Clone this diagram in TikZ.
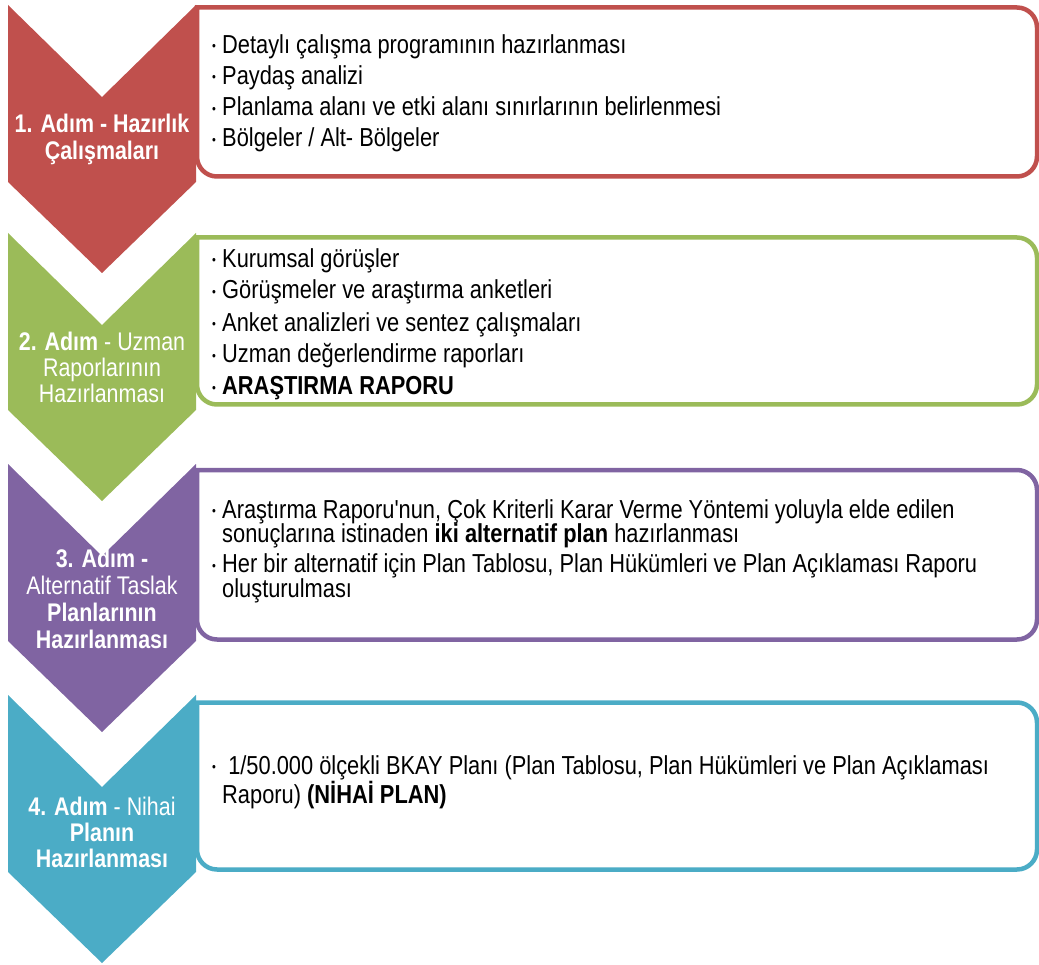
\documentclass[tikz,border=0pt]{standalone}
\usepackage{fontspec}
\setmainfont{Liberation Sans}[FakeStretch=0.84]
\definecolor{stepred}{HTML}{C0504D}
\definecolor{stepgreen}{HTML}{9BBB59}
\definecolor{steppurple}{HTML}{8064A2}
\definecolor{stepteal}{HTML}{4BACC6}
% small bullet used in the item lists
\newcommand\bul{\makebox[10pt][l]{\raisebox{2.5pt}{\fontsize{13}{13}\selectfont •}}}
\newcommand\ind{\hspace*{10pt}}
% straight apostrophe
\newcommand\sq{{\addfontfeatures{Ligatures=TeXOff}'}}
\begin{document}
\begin{tikzpicture}[x=1pt,y=-1pt,
  boxline/.style={line width=4.5pt, fill=white},
  chevron/.pic={\fill (8,0) -- (102,92) -- (196,0) -- (196,177) -- (102,268) -- (8,177) -- cycle;},
  steplabel/.style={anchor=base, align=center, text=white, inner sep=0pt},
  boxtext/.style={anchor=base west, align=left, inner sep=0pt}]
\useasboundingbox (0,0) rectangle (1039,965);

% text boxes, rounded on the right side only
\newcommand\stepbox[3]{\draw[boxline, draw=#1] (197,#2) [rounded corners=20pt] -- (1037,#2) -- (1037,#3) -- (197,#3) [sharp corners] -- cycle;}
\stepbox{stepred}{7.5}{176.5}
\stepbox{stepgreen}{237.5}{404.5}
\stepbox{steppurple}{470}{639.5}
\stepbox{stepteal}{702.5}{869.5}

% downward chevrons
\pic[stepred] at (0,5) {chevron};
\pic[stepgreen] at (0,233) {chevron};
\pic[steppurple] at (0,464) {chevron};
\pic[stepteal] at (0,695) {chevron};

% step titles (anchored at the baseline of their last line)
\node[steplabel, font=\fontsize{25.5}{27}\selectfont] (l1) at (102,160) {\bfseries 1. Adım - Hazırlık\\ \bfseries Çalışmaları};
\node[steplabel, font=\fontsize{25.5}{26.5}\selectfont] (l2) at (102,403) {\textbf{2. Adım} - Uzman\\ Raporlarının\\ Hazırlanması};
\node[steplabel, font=\fontsize{25.5}{27}\selectfont] (l3) at (102,648) {\textbf{3. Adım -}\\ Alternatif Taslak\\ \textbf{Planlarının}\\ \textbf{Hazırlanması}};
\node[steplabel, font=\fontsize{25.5}{26}\selectfont] (l4) at (102,867) {\textbf{4. Adım} - Nihai\\ \textbf{Planın}\\ \textbf{Hazırlanması}};

% step contents
\node[boxtext, font=\fontsize{26}{31.3}\selectfont] (t1) at (212,147) {\bul Detaylı çalışma programının hazırlanması\\
  \bul Paydaş analizi\\
  \bul Planlama alanı ve etki alanı sınırlarının belirlenmesi\\
  \bul Bölgeler / Alt- Bölgeler};
\node[boxtext, font=\fontsize{26}{32}\selectfont] (t2) at (212,395) {\bul Kurumsal görüşler\\
  \bul Görüşmeler ve araştırma anketleri\\
  \bul Anket analizleri ve sentez çalışmaları\\
  \bul Uzman değerlendirme raporları\\
  \bul \textbf{ARAŞTIRMA RAPORU}};
\node[boxtext, font=\fontsize{26}{24.5}\selectfont] (t3) at (212,597) {\bul Araştırma Raporu\sq nun, Çok Kriterli Karar Verme Yöntemi yoluyla elde edilen\\
  \ind sonuçlarına istinaden \textbf{iki alternatif plan} hazırlanması\\[5.5pt]
  \bul Her bir alternatif için Plan Tablosu, Plan Hükümleri ve Plan Açıklaması Raporu\\
  \ind oluşturulması};
\node[boxtext, font=\fontsize{26}{25}\selectfont] (t4) at (212,803) {\bul\ 1/50.000 ölçekli BKAY Planı (Plan Tablosu, Plan Hükümleri ve Plan Açıklaması\\
  \ind Raporu) \textbf{(NİHAİ PLAN)}};
\end{tikzpicture}
\end{document}
